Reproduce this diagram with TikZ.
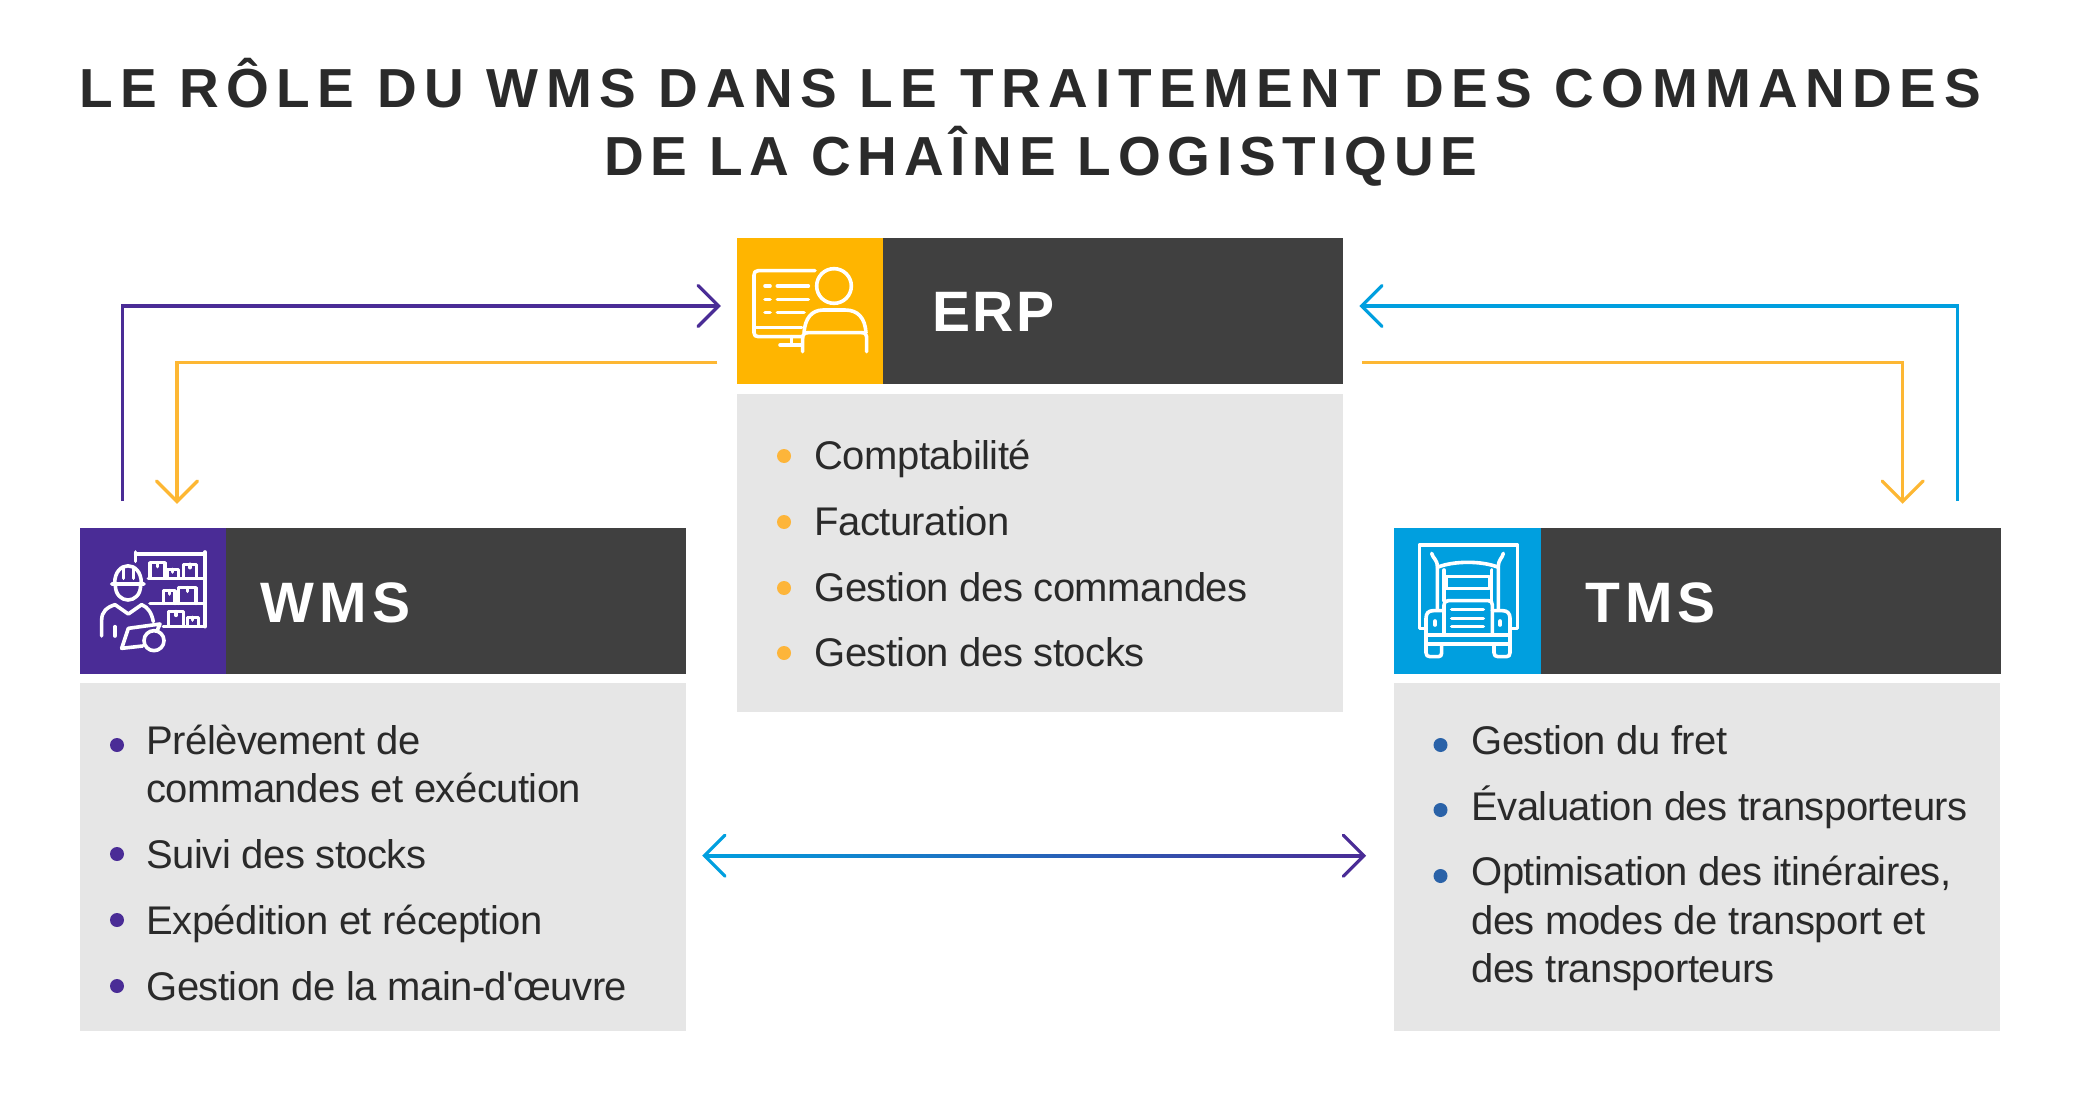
\documentclass[tikz,border=0pt]{standalone}
\usepackage{fontspec}
\setmainfont{Liberation Sans}
\newfontfamily\titlefont[LetterSpace=13.5]{Liberation Sans}
\newfontfamily\titlefontb[LetterSpace=12.2]{Liberation Sans}
\newfontfamily\headfont[LetterSpace=9]{Liberation Sans}
\newfontfamily\headfontb[LetterSpace=4.5]{Liberation Sans}
\newfontfamily\bodyfont[LetterSpace=-1.3]{Liberation Sans}
\definecolor{cPurple}{HTML}{4A2C96}
\definecolor{cYellow}{HTML}{FFB500}
\definecolor{cLine}{HTML}{FDB733}
\definecolor{cBlue}{HTML}{009FDF}
\definecolor{cDark}{HTML}{404040}
\definecolor{cGray}{HTML}{E6E6E6}
\definecolor{cText}{HTML}{2A2A2A}
\definecolor{cBulY}{HTML}{FDB53A}
\definecolor{cBulP}{HTML}{4A2C96}
\definecolor{cBulB}{HTML}{2A62A8}
\tikzset{
  boxbase/.style={inner sep=0pt,outer sep=0pt,anchor=north west,draw=none},
  iconbox/.style={boxbase,minimum width=73.5pt,minimum height=73pt},
  headbox/.style={boxbase,fill=cDark,minimum width=230pt,minimum height=73pt},
  bodybox/.style={boxbase,fill=cGray,minimum width=303pt},
  titletext/.style={inner sep=0pt,anchor=base,text=cText,font=\titlefont\bfseries\fontsize{27.5}{34}\selectfont},
  titletextb/.style={inner sep=0pt,anchor=base,text=cText,font=\titlefontb\bfseries\fontsize{27.5}{34}\selectfont},
  headtext/.style={inner sep=0pt,anchor=base west,text=white,font=\headfont\bfseries\fontsize{28.5}{34}\selectfont},
  headtextb/.style={inner sep=0pt,anchor=base west,text=white,font=\headfontb\bfseries\fontsize{28.5}{34}\selectfont},
  item/.style={inner sep=0pt,anchor=base west,text=cText,font=\bodyfont\fontsize{20}{24}\selectfont},
  bul/.style={circle,inner sep=0pt,minimum size=7pt},
  conn/.style={line width=1.6pt,line join=miter},
  ico/.style={draw=white,line width=1.8pt,line cap=round,line join=round},
}
\newcommand{\chev}[3]{% colour, tip, dx back
  \draw[#1,line width=1.6pt,line cap=round,line join=miter] ([shift={(#3,-20.5)}]#2) -- (#2) -- ([shift={(#3,20.5)}]#2);}
\newcommand{\chevv}[3]{%
  \draw[#1,line width=1.6pt,line cap=round,line join=miter] ([shift={(-20.5,-#3)}]#2) -- (#2) -- ([shift={(20.5,-#3)}]#2);}
\begin{document}
\begin{tikzpicture}[x=0.5pt,y=-0.5pt]
\useasboundingbox[fill=white] (0,0) rectangle (2080,1101);
% title
\node[titletext] (t1) at (1030,108) {LE RÔLE DU WMS DANS LE TRAITEMENT DES COMMANDES};
\node[titletextb] (t2) at (1041,175.5) {DE LA CHAÎNE LOGISTIQUE};
% ERP
\node[iconbox,fill=cYellow] (erpI) at (737.3,238) {};
\node[headbox] (erpH) at (883,238) {};
\node[bodybox,minimum height=159pt] (erpB) at (737.3,394) {};
\node[headtextb] (erpT) at (932,332) {ERP};
% WMS
\node[iconbox,fill=cPurple] (wmsI) at (79.5,528) {};
\node[headbox] (wmsH) at (226,528) {};
\node[bodybox,minimum height=174pt] (wmsB) at (79.5,683) {};
\node[headtext] (wmsT) at (260.5,622) {WMS};
% TMS
\node[iconbox,fill=cBlue] (tmsI) at (1394.3,528) {};
\node[headbox] (tmsH) at (1540.8,528) {};
\node[bodybox,minimum height=174pt] (tmsB) at (1394.3,683) {};
\node[headtext] (tmsT) at (1585,622) {TMS};
% ERP items
\foreach \n/\y/\s in {e1/455/Comptabilité,e2/521/Facturation,e3/587/Gestion des commandes,e4/652/Gestion des stocks}{
  \node[item] (\n) at (814,\y+14) {\s};
  \node[bul,fill=cBulY] (\n b) at (784,\y+1) {};
}
% WMS items
\node[item] (w1a) at (146,754) {Prélèvement de};
\node[item] (w1b) at (146,802) {commandes et exécution};
\node[item] (w2) at (146,868) {Suivi des stocks};
\node[item] (w3) at (146,934) {Expédition et réception};
\node[item] (w4) at (146,1000) {Gestion de la main-d'œuvre};
\foreach \n/\y in {a/745,b/854,c/920,d/986}{\node[bul,fill=cBulP] (wb\n) at (117,\y) {};}
% TMS items
\node[item] (m1) at (1471,754) {Gestion du fret};
\node[item] (m2) at (1471,820) {Évaluation des transporteurs};
\node[item] (m3a) at (1471,885.5) {Optimisation des itinéraires,};
\node[item] (m3b) at (1471,934) {des modes de transport et};
\node[item] (m3c) at (1471,982) {des transporteurs};
\foreach \n/\y in {a/745,b/810,c/876}{\node[bul,fill=cBulB] (mb\n) at (1440.5,\y) {};}
% connector ends
\coordinate (pS) at (122.7,501); \coordinate (pC) at (122.7,306); \coordinate (pE) at (718.5,306);
\coordinate (yS) at (717.3,362.7); \coordinate (yC) at (177,362.7); \coordinate (yE) at (177,501.5);
\coordinate (bS) at (1957.3,501); \coordinate (bC) at (1957.3,306); \coordinate (bE) at (1361.5,306);
\coordinate (zS) at (1362.3,362.7); \coordinate (zC) at (1902.7,362.7); \coordinate (zE) at (1902.7,501.5);
\coordinate (gL) at (704.5,855.7); \coordinate (gR) at (1363.8,855.7);
\draw[conn,cPurple] (pS) -- (pC) -- (pE); \chev{cPurple}{pE}{-20.5}
\draw[conn,cLine] (yS) -- (yC) -- (yE); \chevv{cLine}{yE}{20.5}
\draw[conn,cBlue] (bS) -- (bC) -- (bE); \chev{cBlue}{bE}{20.5}
\draw[conn,cLine] (zS) -- (zC) -- (zE); \chevv{cLine}{zE}{20.5}
\shade[left color=cBlue,right color=cPurple] ([yshift=-0.8pt]gL) rectangle ([yshift=0.8pt]gR);
\chev{cBlue}{gL}{20.5}
\chev{cPurple}{gR}{-20.5}
% WMS icon
\begin{scope}[shift={(70,520)},x=0.16667pt,y=-0.16667pt,ico]
\draw (197,96)--(197,124) (197,102)--(405,102) (405,96)--(405,320);
\draw (235,175)--(405,175) (240,250)--(405,250) (280,320)--(405,320);
\draw (240,172)--(240,128)--(285,128)--(285,172) (262,128)--(262,140);
\draw (292,172)--(292,148)--(325,148)--(325,172) (308,148)--(308,156);
\draw (340,172)--(340,133)--(380,133)--(380,172) (360,133)--(360,143);
\draw (280,250)--(280,212)--(315,212)--(315,250) (298,212)--(298,222);
\draw (325,250)--(325,203)--(378,203)--(378,250) (352,203)--(352,214);
\draw (295,318)--(295,275)--(340,275)--(340,318) (318,275)--(318,286);
\draw (352,318)--(352,292)--(385,292)--(385,318) (368,292)--(368,300);
\draw (125,192)--(222,192) (134,190) .. controls (134,120) and (214,120) .. (214,190);
\draw (160,142)--(160,175) (190,142)--(190,175);
\draw (136,195) .. controls (136,255) and (212,255) .. (212,195);
\draw (95,348)--(95,300) .. controls (95,275) and (110,262) .. (135,254) -- (175,282) -- (215,254) .. controls (235,262) and (245,280) .. (250,305);
\draw (135,320)--(135,348);
\draw (218,378)--(155,385)--(175,325)--(270,312)--(262,330);
\draw (252,362) circle[radius=30];
\end{scope}
% ERP icon
\begin{scope}[shift={(730,230)},x=0.16667pt,y=-0.16667pt,ico]
\draw (255,122)--(85,122) .. controls (76,122) and (72,126) .. (72,135) -- (72,308) .. controls (72,316) and (76,320) .. (85,320) -- (215,320);
\draw (72,292)--(215,292);
\draw (185,320)--(185,345) (150,345)--(215,345);
\draw (105,168)--(120,168) (142,168)--(235,168);
\draw (105,208)--(120,208) (142,208)--(235,208);
\draw (105,248)--(120,248) (142,248)--(222,248);
\draw (312,168) circle[radius=52];
\draw (222,308) .. controls (225,265) and (245,240) .. (280,240) -- (345,240) .. controls (385,240) and (405,265) .. (408,308);
\draw (218,365)--(218,325) .. controls (218,312) and (224,308) .. (235,308) -- (395,308) .. controls (406,308) and (410,314) .. (410,325) -- (410,365);
\end{scope}
% TMS icon
\begin{scope}[shift={(1390,520)},x=0.16667pt,y=-0.16667pt,ico]
\draw (105,325)--(88,325)--(88,75)--(382,75)--(382,325)--(360,325);
\draw (125,100) .. controls (128,115) and (142,118) .. (142,140) -- (142,270);
\draw (340,100) .. controls (337,115) and (325,118) .. (325,140) -- (325,270);
\draw (142,142) .. controls (190,122) and (277,122) .. (325,142);
\draw (162,150)--(162,242) (305,150)--(305,242);
\draw (168,170) rectangle (298,205);
\draw (162,345)--(162,255) .. controls (162,246) and (166,242) .. (175,242) -- (295,242) .. controls (303,242) and (307,246) .. (307,255) -- (307,345);
\draw (185,268)--(280,268) (185,295)--(280,295) (185,320)--(280,320);
\draw (162,272)--(130,272) .. controls (115,272) and (108,280) .. (108,295) -- (108,345);
\draw (307,272)--(338,272) .. controls (352,272) and (360,280) .. (360,295) -- (360,345);
\draw (135,303)--(135,315) (330,303)--(330,315);
\draw (108,345) rectangle (360,372);
\draw (108,372)--(108,398) .. controls (108,406) and (112,410) .. (120,410) -- (145,410) .. controls (152,410) and (155,406) .. (155,398) -- (155,372);
\draw (312,372)--(312,398) .. controls (312,406) and (316,410) .. (324,410) -- (349,410) .. controls (356,410) and (360,406) .. (360,398) -- (360,372);
\end{scope}
\end{tikzpicture}
\end{document}
